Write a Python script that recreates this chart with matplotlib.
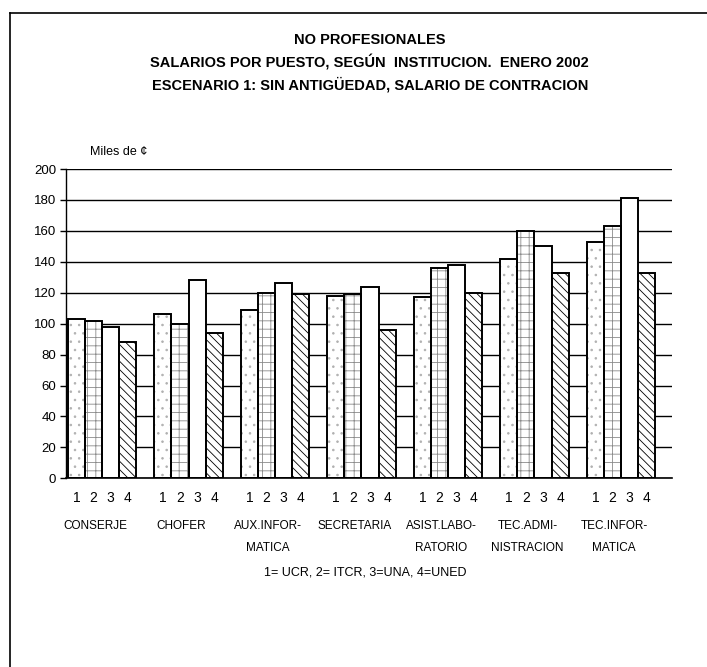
import matplotlib
matplotlib.use('Agg')
import matplotlib.pyplot as plt
from matplotlib.lines import Line2D
import numpy as np

# datos (miles de colones)
categorias = ['CONSERJE', 'CHOFER', 'AUX.INFOR-\nMATICA', 'SECRETARIA',
              'ASIST.LABO-\nRATORIO', 'TEC.ADMI-\nNISTRACION', 'TEC.INFOR-\nMATICA']
ucr = [103, 106, 109, 118, 117, 142, 153]
itcr = [102, 100, 120, 119, 136, 160, 163]
una = [98, 128, 126, 124, 138, 150, 181]
uned = [88, 94, 119, 96, 120, 133, 133]
etiquetas_inst = ['1', '2', '3', '4']
y_ticks = [0, 20, 40, 60, 80, 100, 120, 140, 160, 180, 200]

fuente = ['Liberation Sans Narrow', 'Liberation Sans', 'DejaVu Sans']
plt.rcParams['font.family'] = fuente
plt.rcParams['hatch.linewidth'] = 0.6

fig = plt.figure(figsize=(7.07, 6.67), dpi=100)
ax = fig.add_axes([0.0934, 0.2829, 0.8571, 0.4637])

x = np.arange(len(categorias))
ancho = 0.197
series = [ucr, itcr, una, uned]
# estilos: relleno de puntos, cuadricula punteada, blanco, diagonal
hatches = ['..', '++', '', '\\\\\\\\']
hcolors = ['#b0b0b0', '#8a8a8a', 'white', 'black']

for s, (vals, h, hc) in enumerate(zip(series, hatches, hcolors)):
    pos = x + (s - 1.5) * ancho
    ax.bar(pos, vals, width=ancho, color='white', hatch=h, edgecolor=hc,
           linewidth=0, zorder=2)
    ax.bar(pos, vals, width=ancho, fill=False, edgecolor='black',
           linewidth=1.4, zorder=3)

ax.set_ylim(0, 200)
ax.set_xlim(-0.416, 6.59)
ax.set_yticks(y_ticks)
ax.tick_params(axis='y', direction='out', length=4, width=1, labelsize=9.5, pad=3)
ax.yaxis.grid(True, color='black', linewidth=1.0, zorder=0)
ax.set_axisbelow(True)
for sp in ['top', 'right']:
    ax.spines[sp].set_visible(False)
ax.spines['left'].set_linewidth(1.0)
ax.spines['bottom'].set_linewidth(1.2)

# numeros 1 2 3 4 bajo cada barra
xt = []
xl = []
for i in x:
    for s in range(4):
        xt.append(i + (s - 1.5) * ancho)
        xl.append(etiquetas_inst[s])
ax.set_xticks(xt)
ax.set_xticklabels(xl, fontsize=10)
ax.tick_params(axis='x', length=0, pad=9)

for i, nom in enumerate(categorias):
    ax.text(i - 0.08, -0.135, nom, transform=ax.get_xaxis_transform(),
            ha='center', va='top', fontsize=8.5, linespacing=2.1)

ax.text(0.04, 1.035, 'Miles de ¢', transform=ax.transAxes, fontsize=9,
        ha='left', va='bottom')

fig.text(0.523, 0.940, 'NO PROFESIONALES', ha='center', va='center',
         fontsize=10.5, fontweight='bold')
fig.text(0.523, 0.907, 'SALARIOS POR PUESTO, SEGÚN  INSTITUCION.  ENERO 2002',
         ha='center', va='center', fontsize=10.5, fontweight='bold')
fig.text(0.523, 0.873, 'ESCENARIO 1: SIN ANTIGÜEDAD, SALARIO DE CONTRACION',
         ha='center', va='center', fontsize=10.5, fontweight='bold')

fig.text(0.517, 0.141, '1= UCR, 2= ITCR, 3=UNA, 4=UNED', ha='center',
         va='center', fontsize=9)

# marco
fig.add_artist(Line2D([0.0141, 1.0], [0.9805, 0.9805], color='black', linewidth=1.2))
fig.add_artist(Line2D([0.0141, 0.0141], [0.0, 0.9805], color='black', linewidth=1.2))

fig.savefig('out.png', dpi=100)
